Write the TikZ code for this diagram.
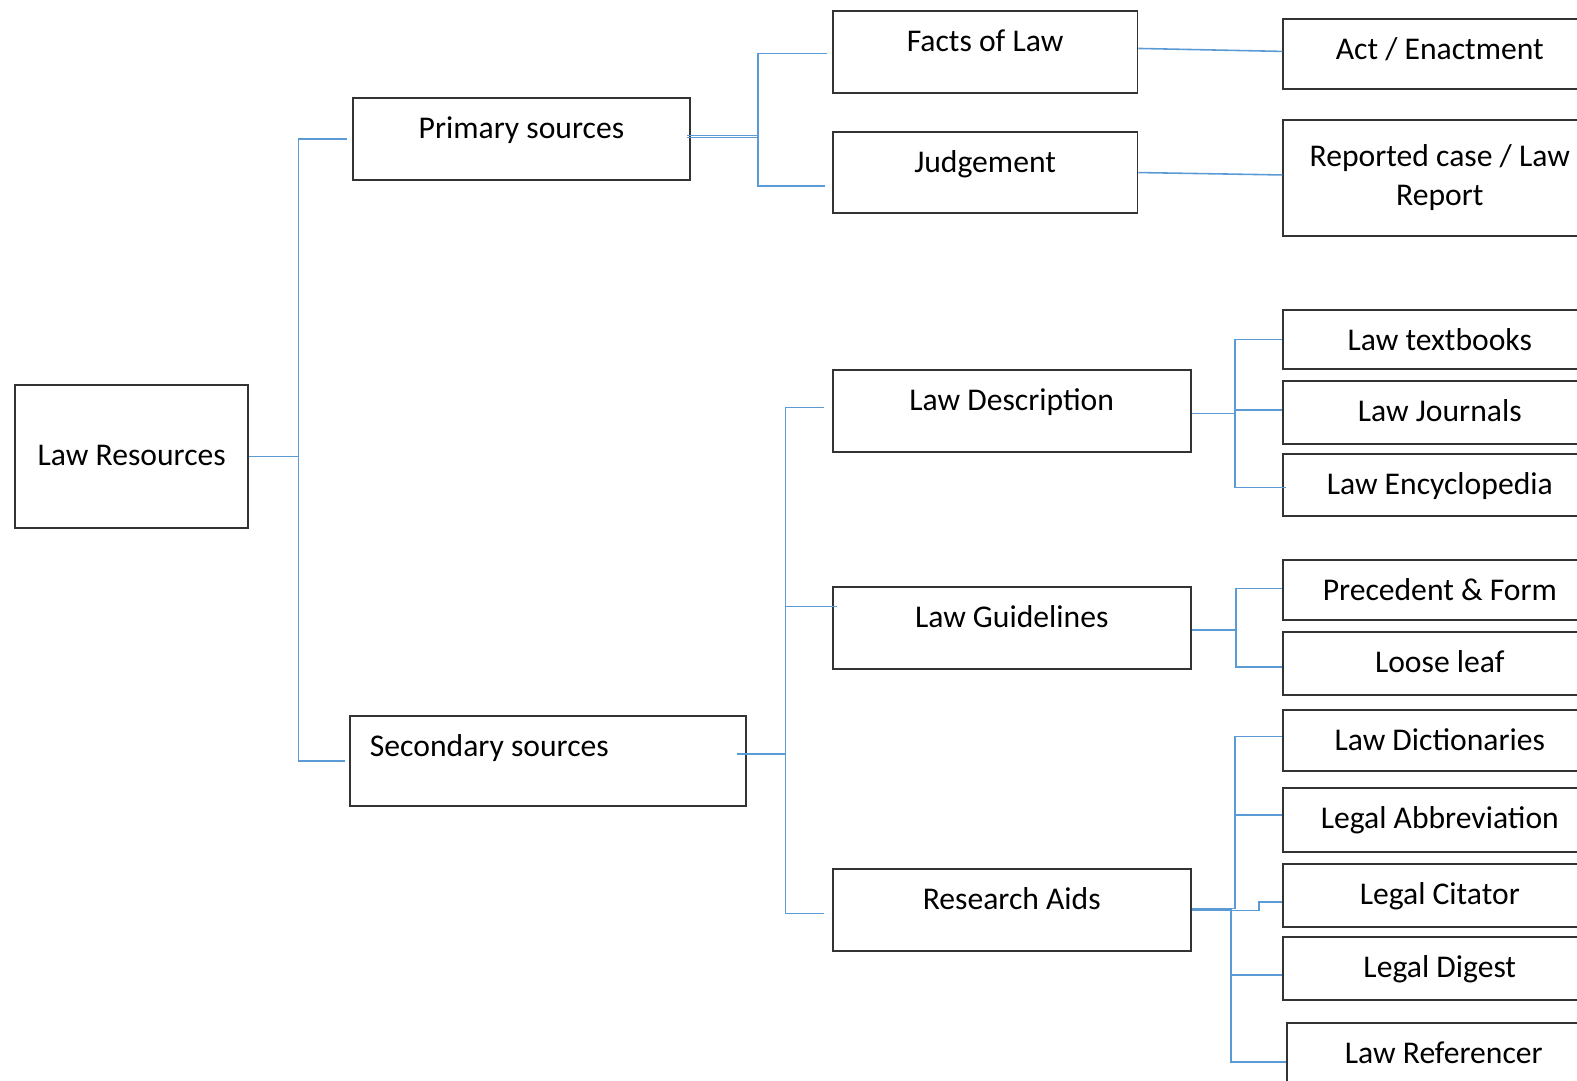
\documentclass[tikz,border=0pt]{standalone}
\usepackage{fontspec}
\setmainfont{Carlito}
\usetikzlibrary{calc}

\definecolor{linkblue}{HTML}{5B9BD5}

\tikzset{
  srcbox/.style={draw=black!80, line width=0.55pt, inner sep=0pt, anchor=north west,
    text height=0.405cm, font=\fontsize{9}{11.1}\selectfont, align=center},
  leafbox/.style={srcbox, minimum width=3.13cm},
  link/.style={draw=linkblue, line width=0.45pt},
}

\begin{document}
\begin{tikzpicture}
  \useasboundingbox (0,0) rectangle (15.77,-10.81);
  % root and first level
  \node[srcbox, minimum width=2.333cm, text height=0.804cm, text depth=0.624cm] (lawres) at (0.141,-3.842) {Law Resources};
  \node[srcbox, minimum width=3.369cm, text depth=0.423cm] (prim) at (3.52,-0.966) {Primary sources};
  \node[srcbox, align=flush left, text width=3.563cm, inner xsep=0.2cm, text depth=0.493cm] (sec) at (3.49,-7.151) {Secondary sources};
  % second level
  \node[srcbox, minimum width=3.048cm, text depth=0.413cm] (facts) at (8.317,-0.101) {Facts of Law};
  \node[srcbox, minimum width=3.048cm, text depth=0.413cm] (judg) at (8.317,-1.307) {Judgement};
  \node[srcbox, minimum width=3.581cm, text depth=0.413cm] (ldesc) at (8.317,-3.691) {Law Description};
  \node[srcbox, minimum width=3.581cm, text depth=0.413cm] (lguide) at (8.317,-5.863) {Law Guidelines};
  \node[srcbox, minimum width=3.581cm, text depth=0.413cm] (raids) at (8.317,-8.68) {Research Aids};
  % leaves
  \node[leafbox, text depth=0.292cm] (act) at (12.823,-0.181) {Act / Enactment};
  \node[leafbox, text height={}, minimum height=1.166cm] (rep) at (12.823,-1.187) {Reported case / Law\\Report};
  \node[leafbox, text depth=0.192cm] (ltext) at (12.823,-3.088) {Law textbooks};
  \node[leafbox, text depth=0.222cm] (ljour) at (12.823,-3.802) {Law Journals};
  \node[leafbox, text depth=0.221cm] (lency) at (12.823,-4.526) {Law Encyclopedia};
  \node[leafbox, text depth=0.191cm] (prec) at (12.823,-5.592) {Precedent \& Form};
  \node[leafbox, text depth=0.232cm] (loose) at (12.823,-6.306) {Loose leaf};
  \node[leafbox, text depth=0.202cm] (ldict) at (12.823,-7.09) {Law Dictionaries};
  \node[leafbox, text depth=0.232cm] (labbr) at (12.823,-7.875) {Legal Abbreviation};
  \node[leafbox, text depth=0.222cm] (lcit) at (12.823,-8.629) {Legal Citator};
  \node[leafbox, text depth=0.222cm] (ldig) at (12.823,-9.363) {Legal Digest};
  \node[leafbox, text depth=0.3cm] (lref) at (12.863,-10.218) {Law Referencer};

  % connectors
  \draw[link] (lawres.east) -- ++(0.493,0) coordinate (lrfork) |- ([xshift=-0.05cm]prim.west);
  \draw[link] (lrfork) |- ([xshift=-0.04cm]sec.west);

  \draw[link] ([xshift=-0.04cm,yshift=0.015cm]prim.east) -- ++(0.714,0) coordinate (pfork) |- ([xshift=-0.05cm,yshift=-0.015cm]facts.west);
  \draw[link] ([xshift=-0.04cm,yshift=0.035cm]prim.east) -- (pfork |- {$(prim.east)+(0,0.035)$});
  \draw[link] (pfork) |- ([xshift=-0.07cm,yshift=-0.136cm]judg.west);
  \draw[link] ([yshift=0.035cm]facts.east) -- ([yshift=0.025cm]act.west);
  \draw[link] (judg.east) -- ([yshift=0.03cm]rep.west);

  \draw[link] ([xshift=-0.1cm,yshift=0.071cm]sec.east) -- ++(0.482,0) coordinate (sfork) |- ([xshift=-0.08cm,yshift=0.036cm]ldesc.west);
  \draw[link] (sfork) |- ([xshift=0.05cm,yshift=0.215cm]lguide.west);
  \draw[link] (sfork) |- ([xshift=-0.08cm,yshift=-0.035cm]raids.west);

  \draw[link] ([yshift=-0.025cm]ldesc.east) -- ++(0.432,0) coordinate (dfork) |- (ltext.west);
  \draw[link] (dfork) |- ([yshift=0.025cm]ljour.west);
  \draw[link] (dfork) |- ([xshift=0.04cm,yshift=-0.025cm]lency.west);

  \draw[link] ([yshift=-0.016cm]lguide.east) -- ++(0.442,0) coordinate (gfork) |- ([yshift=0.015cm]prec.west);
  \draw[link] (gfork) |- ([yshift=-0.035cm]loose.west);

  \draw[link] ([yshift=0.015cm]raids.east) -- ++(0.432,0) coordinate (rfork) |- ([yshift=0.04cm]ldict.west);
  \draw[link] (rfork) |- ([yshift=0.056cm]labbr.west);
  \draw[link] ([yshift=-0.005cm]raids.east) -- ++(0.674,0) |- ([yshift=-0.065cm]lcit.west);
  \draw[link] (raids.east) -- ++(0.392,0) coordinate (rfork2) |- ([yshift=-0.066cm]ldig.west);
  \draw[link] (rfork2) |- ([xshift=0.0cm,yshift=-0.04cm]lref.west);
\end{tikzpicture}
\end{document}
